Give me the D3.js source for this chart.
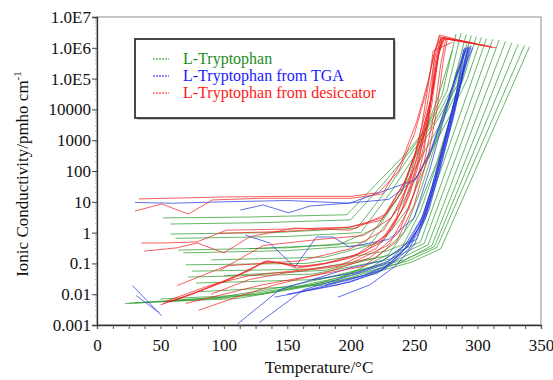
<!DOCTYPE html>
<html>
<head>
<meta charset="utf-8">
<script src="https://cdn.jsdelivr.net/npm/d3@7"></script>
<style>
  body { margin: 0; background: #fff; }
  svg text { font-family: "Liberation Serif", "DejaVu Serif", serif; }
</style>
</head>
<body>
<svg id="chart" width="553" height="380"></svg>
<script>
// ---- data: [temperature °C, conductivity pmho/cm] ----
const seriesNames = ["L-Tryptophan", "L-Tryptophan from TGA", "L-Tryptophan from desiccator"];
const xTickValues = [0, 50, 100, 150, 200, 250, 300, 350];
const yTickValues = [1e-3, 1e-2, 1e-1, 1, 10, 100, 1000, 1e4, 1e5, 1e6, 1e7];
const yTickLabels = ["0.001", "0.01", "0.1", "1", "10", "100", "1000", "10000", "1.0E5", "1.0E6", "1.0E7"];

const greenRuns = [
    [[52, 3.0], [120, 3.2], [197, 3.8], [223, 50], [243, 350], [260, 2500], [272, 3e4], [283, 2.8e6]],
    [[58, 1.9], [130, 2.1], [200, 2.6], [226, 40], [246, 400], [262, 3000], [276, 4e4], [287, 3e6]],
    [[58, 0.9], [140, 1.0], [205, 1.4], [230, 30], [250, 500], [266, 4000], [280, 5e4], [291, 2.7e6]],
    [[62, 0.65], [150, 0.75], [208, 1.0], [233, 25], [253, 450], [269, 5000], [284, 6e4], [295, 2.5e6]],
    [[64, 0.27], [150, 0.32], [212, 0.5], [236, 12], [256, 300], [273, 5000], [288, 8e4], [299, 2.3e6]],
    [[68, 0.22], [150, 0.26], [215, 0.4], [240, 8], [260, 250], [277, 5000], [292, 1e5], [303, 2.2e6]],
    [[70, 0.09], [165, 0.1], [228, 0.25], [252, 0.6], [307, 2e6]],
    [[75, 0.056], [170, 0.065], [230, 0.18], [255, 0.5], [312, 1.9e6]],
    [[72, 0.036], [170, 0.045], [232, 0.14], [258, 0.45], [317, 1.8e6]],
    [[78, 0.023], [175, 0.03], [235, 0.12], [261, 0.4], [322, 1.6e6]],
    [[80, 0.012], [180, 0.02], [238, 0.1], [264, 0.38], [327, 1.45e6]],
    [[22, 0.005], [97, 0.008], [150, 0.018], [200, 0.05], [242, 0.13], [266, 0.35], [332, 1.3e6]],
    [[25, 0.005], [100, 0.0075], [155, 0.017], [205, 0.045], [245, 0.12], [268, 0.33], [337, 1.2e6]],
    [[30, 0.0052], [110, 0.0072], [160, 0.016], [210, 0.04], [248, 0.11], [271, 0.3], [341, 1.1e6]],
    [[55, 0.006], [120, 0.009], [170, 0.02], [215, 0.07], [240, 0.3], [255, 5], [270, 300], [290, 3e5]],
    [[90, 0.13], [180, 0.16], [225, 0.5], [245, 6], [262, 300], [280, 3e4], [292, 1.5e6]],
    [[50, 0.007], [130, 0.01], [190, 0.03], [230, 0.2], [250, 3], [268, 200], [288, 1e5]],
    [[100, 0.04], [180, 0.06], [220, 0.15], [242, 1], [256, 30], [270, 2000], [284, 2e5]],
    [[120, 0.3], [190, 0.4], [222, 1.5], [240, 20], [254, 600], [268, 2e4], [280, 8e5]]
];

const blueRuns = [
    [[30, 9.5], [60, 9], [100, 10], [150, 11], [199, 9], [250, 50], [262, 300], [272, 5000], [280, 5e4], [290, 1e6]],
    [[113, 5.4], [131, 7.9], [151, 4.4], [168, 7.3], [199, 9.1], [230, 12], [252, 60], [264, 600], [274, 1e4], [284, 1.5e5], [292, 1.1e6]],
    [[117, 0.83], [136, 0.46], [156, 0.076], [173, 0.72], [186, 0.72], [199, 0.34], [230, 0.6], [250, 3], [262, 100], [272, 3000], [282, 8e4], [291, 1e6]],
    [[111, 0.0011], [144, 0.014], [199, 0.07], [225, 0.12], [243, 0.4], [256, 3], [266, 50], [276, 2000], [284, 5e4], [290, 8e5]],
    [[128, 0.0012], [163, 0.014], [200, 0.04], [226, 0.09], [245, 0.35], [258, 3], [268, 80], [278, 3000], [286, 6e4], [292, 9e5]],
    [[28, 0.019], [51, 0.002]],
    [[31, 0.009], [49, 0.0025]],
    [[150, 0.01], [200, 0.025], [225, 0.06], [243, 0.3], [256, 2], [266, 40], [276, 1500], [285, 4e4], [293, 1e6]],
    [[160, 0.012], [200, 0.03], [228, 0.07], [246, 0.3], [259, 3], [269, 80], [279, 3000], [287, 8e4], [294, 1.1e6]],
    [[180, 0.02], [210, 0.04], [232, 0.1], [248, 0.5], [260, 5], [270, 150], [280, 5000], [288, 1e5], [295, 1.2e6]],
    [[140, 0.008], [190, 0.02], [222, 0.05], [241, 0.25], [254, 1.5], [264, 30], [274, 1000], [283, 3e4], [289, 9e5]],
    [[170, 0.03], [205, 0.05], [230, 0.12], [247, 0.6], [258, 4], [268, 120], [278, 4000], [286, 9e4], [293, 1.1e6]],
    [[190, 0.008], [215, 0.02], [235, 0.08], [250, 0.4], [262, 6], [272, 200], [282, 8000], [289, 2e5], [296, 1e6]]
];

const redRuns = [
    [[33, 12.4], [102, 14.4], [150, 15], [200, 15], [222, 20], [238, 100], [250, 1500], [259, 3e4], [265, 5e5], [270, 2.6e6], [290, 1.6e6], [312, 1e6]],
    [[30, 5], [51, 8.5], [72, 4], [91, 11.5], [130, 13], [200, 13], [225, 18], [240, 200], [252, 4000], [261, 8e4], [267, 1e6], [272, 2.2e6], [300, 1.3e6]],
    [[35, 0.46], [53, 0.46], [79, 0.5], [102, 1.2], [150, 1.3], [199, 1.5], [225, 3], [242, 40], [254, 800], [263, 2e4], [268, 4e5], [272, 2e6], [295, 1.5e6]],
    [[37, 0.25], [63, 0.32], [79, 0.46], [100, 0.22], [121, 0.75], [156, 1.4], [200, 1.2], [228, 4], [244, 60], [256, 1500], [264, 3e4], [269, 6e5], [274, 2e6], [310, 1.1e6]],
    [[50, 0.0045], [75, 0.01], [102, 0.029], [121, 0.06], [131, 0.11], [144, 0.11], [157, 0.07], [176, 0.09], [200, 0.15], [225, 0.5], [240, 5], [252, 150], [261, 5000], [267, 2e5], [271, 2e6]],
    [[52, 0.005], [80, 0.012], [105, 0.03], [122, 0.07], [133, 0.12], [146, 0.1], [160, 0.08], [180, 0.1], [205, 0.2], [228, 0.8], [243, 8], [254, 250], [262, 8000], [268, 3e5], [272, 2.2e6], [298, 1.4e6]],
    [[60, 0.006], [85, 0.015], [110, 0.04], [125, 0.08], [135, 0.12], [150, 0.09], [165, 0.08], [190, 0.12], [212, 0.25], [232, 1.2], [246, 15], [257, 500], [264, 1.5e4], [269, 5e5], [273, 2e6], [305, 1.2e6]],
    [[63, 0.019], [102, 0.083], [130, 0.1], [160, 0.12], [200, 0.3], [226, 1.2], [241, 12], [253, 300], [262, 1e4], [267, 4e5], [271, 2.4e6]],
    [[97, 0.95], [150, 1.1], [199, 1.5], [224, 2.5], [240, 20], [251, 400], [260, 1.2e4], [266, 4e5], [270, 2.5e6]],
    [[55, 0.006], [90, 0.02], [120, 0.04], [160, 0.06], [200, 0.1], [230, 0.4], [246, 6], [258, 200], [266, 8000], [271, 3e5], [275, 2e6], [315, 1e6]],
    [[70, 0.005], [100, 0.01], [130, 0.02], [170, 0.04], [210, 0.08], [236, 0.5], [250, 8], [261, 300], [268, 1e4], [273, 4e5], [276, 1.8e6]],
    [[97, 0.06], [131, 0.38], [175, 0.6], [210, 0.8], [232, 3], [247, 50], [257, 1500], [265, 5e4], [270, 1e6], [274, 2.3e6]],
    [[80, 0.003], [110, 0.008], [140, 0.02], [180, 0.05], [215, 0.15], [238, 1], [250, 20], [258, 500], [263, 2e4], [266, 6e5]],
    [[90, 0.01], [120, 0.03], [150, 0.05], [190, 0.08], [220, 0.3], [236, 3], [248, 100], [256, 3000], [262, 1e5], [265, 8e5], [280, 1.5e6]]
];

const colors = ["#2b9a2b", "#2233e0", "#f02222"];
const legendColors = ["#1e8c1e", "#1a1aff", "#ff1a1a"];

// ---- layout ----
let plot = { left: 97, right: 541, top: 17, bottom: 325 };
let svg = d3.select("#chart");

let x = d3.scaleLinear().domain([0, 350]).range([plot.left, plot.right]);
let y = d3.scaleLog().domain([1e-3, 1e7]).range([plot.bottom, plot.top]);

svg.append("defs").append("clipPath").attr("id", "clip")
    .append("rect")
    .attr("x", plot.left).attr("y", plot.top)
    .attr("width", plot.right - plot.left).attr("height", plot.bottom - plot.top);

// frame
svg.append("rect")
    .attr("x", plot.left).attr("y", plot.top)
    .attr("width", plot.right - plot.left).attr("height", plot.bottom - plot.top)
    .attr("fill", "none").attr("stroke", "#a0a0a0").attr("stroke-width", 1.2);

// lines
let line = d3.line().x(d => x(d[0])).y(d => y(d[1]));
let lineLayer = svg.append("g").attr("clip-path", "url(#clip)");

[greenRuns, blueRuns, redRuns].forEach((runs, i) => {
    lineLayer.append("g").selectAll("path")
        .data(runs)
        .join("path")
        .attr("d", line)
        .attr("fill", "none")
        .attr("stroke", colors[i])
        .attr("stroke-width", 0.9)
        .attr("stroke-opacity", 0.8);
});

// x axis
let minorX = d3.range(0, 350.1, 12.5);
let xAxis = svg.append("g")
    .attr("transform", `translate(0, ${plot.bottom})`)
    .call(d3.axisBottom(x).tickValues(minorX).tickSize(4)
        .tickFormat(d => xTickValues.includes(d) ? d : ""));
xAxis.select(".domain").attr("stroke", "#333").attr("stroke-width", 1.3);
xAxis.selectAll(".tick line").attr("stroke", "#555");
xAxis.selectAll("text")
    .attr("y", 14)
    .attr("font-size", 17)
    .attr("fill", "#111");

// y axis
let minorY = [];
yTickValues.slice(0, -1).forEach(v => {
    [2, 3, 4, 5, 6, 7, 8, 9].forEach(m => minorY.push(v * m));
});
svg.append("g")
    .selectAll("line")
    .data(minorY)
    .join("line")
    .attr("x1", plot.left - 2).attr("x2", plot.left + 1)
    .attr("y1", d => y(d)).attr("y2", d => y(d))
    .attr("stroke", "#bbb");

let yAxis = svg.append("g")
    .attr("transform", `translate(${plot.left}, 0)`)
    .call(d3.axisLeft(y).tickValues(yTickValues).tickSize(5)
        .tickFormat((d, i) => yTickLabels[i]));
yAxis.select(".domain").attr("stroke", "#333").attr("stroke-width", 1.3);
yAxis.selectAll(".tick line").attr("stroke", "#444");
yAxis.selectAll("text")
    .attr("x", -6)
    .attr("font-size", 17)
    .attr("fill", "#111");

// axis titles
svg.append("text")
    .attr("x", (plot.left + plot.right) / 2)
    .attr("y", 373)
    .attr("text-anchor", "middle")
    .attr("font-size", 17)
    .attr("fill", "#111")
    .text("Temperature/°C");

let yTitle = svg.append("text")
    .attr("transform", "translate(28, 174) rotate(-90)")
    .attr("text-anchor", "middle")
    .attr("font-size", 17)
    .attr("fill", "#111");
yTitle.append("tspan").text("Ionic Conductivity/pmho cm");
yTitle.append("tspan").attr("dy", -7).attr("font-size", 11).text("-1");

// legend
let legend = svg.append("g").attr("transform", "translate(135, 39)");
legend.append("rect")
    .attr("x", 2).attr("y", 2)
    .attr("width", 259).attr("height", 79)
    .attr("fill", "#ccc");
legend.append("rect")
    .attr("width", 259).attr("height", 79)
    .attr("fill", "#fff").attr("stroke", "#333").attr("stroke-width", 1.8);

let rows = legend.selectAll("g.row")
    .data(seriesNames)
    .join("g")
    .attr("class", "row")
    .attr("transform", (d, i) => `translate(0, ${20 + i * 17})`);
rows.append("line")
    .attr("x1", 18).attr("x2", 34)
    .attr("stroke", (d, i) => legendColors[i])
    .attr("stroke-width", 1)
    .attr("stroke-dasharray", "2,1");
rows.append("text")
    .attr("x", 48).attr("y", 5)
    .attr("font-size", 16)
    .attr("fill", (d, i) => legendColors[i])
    .text(d => d);
</script>
</body>
</html>
